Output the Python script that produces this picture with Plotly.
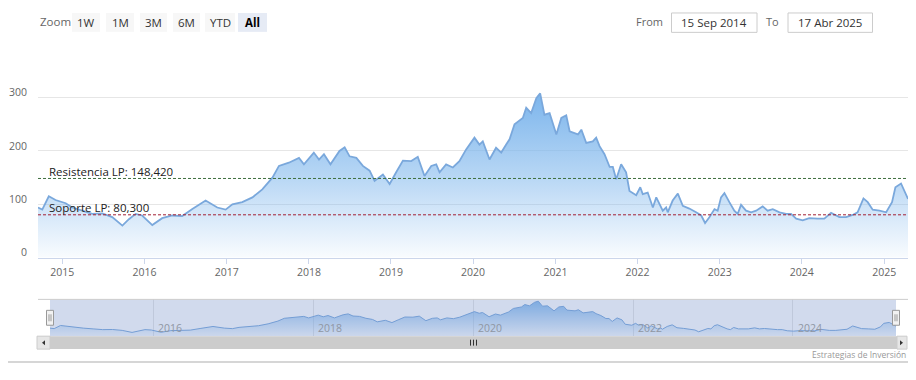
import plotly.graph_objects as go

# ---------------- data ----------------
dates = [
    "2014-09-15", "2014-10-04", "2014-11-02", "2014-12-02", "2015-01-16", "2015-02-14",
    "2015-03-31", "2015-05-14", "2015-06-28", "2015-08-11", "2015-09-25", "2015-10-24",
    "2015-11-23", "2015-12-22", "2016-02-05", "2016-03-20", "2016-05-04", "2016-06-17",
    "2016-08-01", "2016-09-29", "2016-11-20", "2016-12-27", "2017-01-26", "2017-03-11",
    "2017-04-25", "2017-06-08", "2017-07-23", "2017-08-21", "2017-10-04", "2017-11-18",
    "2017-12-10", "2018-01-23", "2018-02-15", "2018-03-09", "2018-04-07", "2018-05-17",
    "2018-06-09", "2018-07-01", "2018-07-31", "2018-08-29", "2018-09-28", "2018-10-20",
    "2018-11-26", "2018-12-26", "2019-01-24", "2019-02-23", "2019-04-01", "2019-04-30",
    "2019-05-30", "2019-06-29", "2019-07-21", "2019-08-05", "2019-09-03", "2019-10-03",
    "2019-11-01", "2019-12-01", "2020-01-07", "2020-01-29", "2020-02-13", "2020-03-14",
    "2020-04-12", "2020-05-05", "2020-05-27", "2020-06-11", "2020-07-03", "2020-08-09",
    "2020-08-24", "2020-09-15", "2020-10-08", "2020-10-25", "2020-11-13", "2020-12-06",
    "2021-01-05", "2021-01-27", "2021-02-18", "2021-03-05", "2021-04-11", "2021-04-26",
    "2021-05-18", "2021-06-16", "2021-07-01", "2021-07-16", "2021-08-07", "2021-08-30",
    "2021-09-13", "2021-09-28", "2021-10-20", "2021-11-11", "2021-11-26", "2021-12-26",
    "2022-01-13", "2022-01-24", "2022-02-15", "2022-03-10", "2022-03-25", "2022-04-23",
    "2022-05-08", "2022-05-15", "2022-06-06", "2022-06-29", "2022-07-21", "2022-08-19",
    "2022-09-18", "2022-10-11", "2022-10-28", "2022-11-17", "2022-12-09", "2022-12-23",
    "2023-01-07", "2023-01-22", "2023-02-13", "2023-03-07", "2023-03-22", "2023-04-06",
    "2023-04-28", "2023-05-21", "2023-06-12", "2023-07-11", "2023-08-02", "2023-08-25",
    "2023-09-24", "2023-10-23", "2023-11-14", "2023-12-07", "2024-01-05", "2024-02-03",
    "2024-03-11", "2024-04-10", "2024-05-10", "2024-06-16", "2024-07-16", "2024-08-14",
    "2024-09-05", "2024-10-01", "2024-10-20", "2024-11-11", "2024-12-11", "2025-01-10",
    "2025-02-05", "2025-02-20", "2025-03-17", "2025-03-31", "2025-04-17",
]
values = [
    94, 90, 115, 108, 102, 94,
    88, 82, 83, 76, 60, 72,
    82, 79, 61, 74, 79, 78,
    91, 107, 94, 90, 100, 104,
    113, 128, 150, 172, 178, 187,
    175, 197, 184, 194, 175, 200,
    207, 190, 187, 172, 163, 144,
    156, 138, 160, 182, 181, 189,
    153, 172, 175, 160, 175, 169,
    181, 203, 225, 212, 218, 184,
    206, 197, 212, 222, 250, 262,
    281, 271, 299, 308, 268, 271,
    231, 262, 267, 237, 231, 240,
    215, 218, 225, 209, 194, 170,
    170, 147, 175, 160, 125, 117,
    132, 119, 122, 94, 113, 88,
    94, 85, 107, 120, 97, 92,
    85, 79, 65, 76, 91, 88,
    113, 121, 104, 88, 82, 99,
    88, 85, 88, 96, 88, 91,
    85, 82, 82, 73, 70, 74,
    73, 73, 84, 76, 76, 80,
    85, 111, 104, 90, 88, 85,
    104, 132, 139, 125, 110,
]

resistance_value = 148.42
support_value = 80.30
resistance_label = "Resistencia LP: 148,420"
support_label = "Soporte LP: 80,300"

y_tickvals = [0, 100, 200, 300, 400]
y_ticktext = ["0", "100", "200", "300", ""]
nav_tick_years = ["2016", "2018", "2020", "2022", "2024"]

zoom_label = "Zoom"
zoom_buttons = ["1W", "1M", "3M", "6M", "YTD", "All"]
active_button = "All"
from_label, from_value = "From", "15 Sep 2014"
to_label, to_value = "To", "17 Abr 2025"
credits_text = "Estrategias de Inversión"

# ---------------- layout helpers (page pixel -> paper) ----------------
# the page body keeps its default 8px margin, so the figure is 900x364
PAGE_W, PAGE_H, BODY_M = 916, 380, 8
W, H = PAGE_W - 2 * BODY_M, PAGE_H - 2 * BODY_M
FONT = "Open Sans, Liberation Sans, sans-serif"


def px(x):
    return (x - BODY_M) / W


def py(y):
    return 1 - (y - BODY_M) / H


MAIN_L, MAIN_R, MAIN_T, MAIN_B = 38, 908, 44, 259
NAV_L, NAV_R, NAV_T, NAV_B = 50, 896, 301, 338
SCR_T, SCR_B = 338, 351

fig = go.Figure()

# main area series
fig.add_trace(go.Scatter(
    x=dates, y=values, mode="lines", name="Precio",
    line=dict(color="#7aa8dc", width=1.8),
    fill="tozeroy",
    fillgradient=dict(
        type="vertical", start=0, stop=max(values),
        colorscale=[[0, "rgba(124,181,236,0.04)"], [0.5, "rgba(124,181,236,0.55)"],
                    [1, "rgba(124,181,236,1)"]],
    ),
    xaxis="x", yaxis="y", hoverinfo="x+y", showlegend=False,
))

# navigator series
fig.add_trace(go.Scatter(
    x=dates, y=values, mode="lines", name="nav",
    line=dict(color="#7aa8dc", width=1),
    fill="tozeroy",
    fillgradient=dict(
        type="vertical", start=30, stop=max(values),
        colorscale=[[0, "rgba(124,181,236,0.05)"], [1, "rgba(124,181,236,0.9)"]],
    ),
    xaxis="x2", yaxis="y2", hoverinfo="skip", showlegend=False,
))

shapes = []
annotations = []

# support / resistance lines
for val, col, lab in [(resistance_value, "#3f6f3f", resistance_label),
                      (support_value, "#a32035", support_label)]:
    shapes.append(dict(type="line", xref="x domain", yref="y", x0=0, x1=1, y0=val, y1=val,
                       line=dict(color=col, width=1, dash="3px,2px"), layer="above"))
    annotations.append(dict(xref="x domain", yref="y", x=0, y=val, xshift=9, yshift=7,
                            xanchor="left", yanchor="middle", showarrow=False, text=lab,
                            font=dict(family=FONT, size=11.5, color="#222222")))

# navigator axis labels (left aligned after the grid line, low in the panel)
for yr in nav_tick_years:
    annotations.append(dict(xref="x2", yref="y2 domain", x=f"{yr}-01-01", y=0, xshift=3,
                            yshift=8, xanchor="left", yanchor="middle", showarrow=False,
                            text=yr, font=dict(family=FONT, size=10.5, color="#8f96a3")))

# navigator mask
shapes.append(dict(type="rect", xref="x2 domain", yref="y2 domain", x0=0, x1=1, y0=0, y1=1,
                   fillcolor="rgba(102,133,194,0.3)", line=dict(width=0), layer="above"))
# navigator outline (top)
shapes.append(dict(type="line", xref="paper", yref="paper", x0=px(MAIN_L), x1=px(MAIN_R),
                   y0=py(NAV_T), y1=py(NAV_T), line=dict(color="#cccccc", width=1), layer="above"))

# scrollbar
shapes.append(dict(type="rect", xref="paper", yref="paper", x0=px(37), x1=px(907),
                   y0=py(SCR_B), y1=py(SCR_T), fillcolor="#f2f2f2", line=dict(width=0)))
shapes.append(dict(type="rect", xref="paper", yref="paper", x0=px(50), x1=px(897),
                   y0=py(SCR_B), y1=py(SCR_T), fillcolor="#cccccc", line=dict(width=0)))
for bx0, bx1 in [(37, 50), (897, 907)]:
    shapes.append(dict(type="rect", xref="paper", yref="paper", x0=px(bx0), x1=px(bx1),
                       y0=py(SCR_B), y1=py(SCR_T), fillcolor="#e6e6e6",
                       line=dict(color="#cccccc", width=1)))
# arrows
shapes.append(dict(type="path", xref="paper", yref="paper",
                   path=f"M {px(42)} {py(344.5)} L {px(45)} {py(342)} L {px(45)} {py(347)} Z",
                   fillcolor="#333333", line=dict(width=0)))
shapes.append(dict(type="path", xref="paper", yref="paper",
                   path=f"M {px(903)} {py(344.5)} L {px(900)} {py(342)} L {px(900)} {py(347)} Z",
                   fillcolor="#333333", line=dict(width=0)))
# rifles
for rx in (470.5, 473.5, 476.5):
    shapes.append(dict(type="line", xref="paper", yref="paper", x0=px(rx), x1=px(rx),
                       y0=py(341.5), y1=py(347.5), line=dict(color="#333333", width=1)))

# navigator handles
for hx in (NAV_L, NAV_R):
    shapes.append(dict(type="rect", xref="paper", yref="paper", x0=px(hx - 3.5), x1=px(hx + 3.5),
                       y0=py(327), y1=py(312), fillcolor="#f2f2f2",
                       line=dict(color="#999999", width=1), layer="above"))
    for off in (-1, 1):
        shapes.append(dict(type="line", xref="paper", yref="paper", x0=px(hx + off), x1=px(hx + off),
                           y0=py(316), y1=py(323), line=dict(color="#999999", width=1),
                           layer="above"))

# bottom page line
shapes.append(dict(type="line", xref="paper", yref="paper", x0=0, x1=1, y0=py(364), y1=py(364),
                   line=dict(color="#d6d6d6", width=2)))

# range selector
annotations.append(dict(xref="paper", yref="paper", x=px(38), y=py(22), xanchor="left",
                        yanchor="middle", showarrow=False, text=zoom_label,
                        font=dict(family=FONT, size=11.5, color="#666666")))
btn_x = [(72, 100), (106, 134), (140, 167), (173, 200), (205, 235), (238, 267)]
for (bx0, bx1), lab in zip(btn_x, zoom_buttons):
    active = lab == active_button
    shapes.append(dict(type="rect", xref="paper", yref="paper", x0=px(bx0), x1=px(bx1),
                       y0=py(32), y1=py(13), fillcolor="#e6ebf5" if active else "#f7f7f7",
                       line=dict(width=0)))
    annotations.append(dict(xref="paper", yref="paper", x=px((bx0 + bx1) / 2), y=py(22.5),
                            xanchor="center", yanchor="middle", showarrow=False,
                            text=f"<b>{lab}</b>" if active else lab,
                            font=dict(family=FONT, size=11.5,
                                      color="#000000" if active else "#333333")))

# from / to inputs
annotations.append(dict(xref="paper", yref="paper", x=px(665), y=py(22), xanchor="right",
                        yanchor="middle", showarrow=False, text=from_label,
                        font=dict(family=FONT, size=11, color="#666666")))
annotations.append(dict(xref="paper", yref="paper", x=px(781), y=py(22), xanchor="right",
                        yanchor="middle", showarrow=False, text=to_label,
                        font=dict(family=FONT, size=11, color="#666666")))
for (bx0, bx1), txt in [((671.5, 757), from_value), ((788, 872.5), to_value)]:
    shapes.append(dict(type="rect", xref="paper", yref="paper", x0=px(bx0), x1=px(bx1),
                       y0=py(32.5), y1=py(13), fillcolor="#ffffff",
                       line=dict(color="#cccccc", width=1)))
    annotations.append(dict(xref="paper", yref="paper", x=px((bx0 + bx1) / 2), y=py(22.5),
                            xanchor="center", yanchor="middle", showarrow=False, text=txt,
                            font=dict(family=FONT, size=11.5, color="#333333")))

# credits
annotations.append(dict(xref="paper", yref="paper", x=px(908), y=py(356), xanchor="right",
                        yanchor="middle", showarrow=False, text=credits_text,
                        font=dict(family=FONT, size=8.5, color="#999999")))

x_range = [dates[0], dates[-1]]

fig.update_layout(
    width=W, height=H, autosize=False,
    margin=dict(l=0, r=0, t=0, b=0),
    paper_bgcolor="#ffffff", plot_bgcolor="rgba(0,0,0,0)",
    showlegend=False,
    font=dict(family=FONT, color="#666666"),
    xaxis=dict(
        domain=[px(MAIN_L), px(MAIN_R)], range=x_range, anchor="y",
        tick0="2015-01-01", dtick="M12", tickformat="%Y",
        showgrid=False, showline=True, linecolor="#ccd6eb", linewidth=1,
        ticks="outside", ticklen=5, tickcolor="#ccd6eb",
        tickfont=dict(family=FONT, size=10.5, color="#666666"),
        zeroline=False, fixedrange=True,
    ),
    yaxis=dict(
        domain=[py(MAIN_B), py(MAIN_T)], range=[0, 401], anchor="x",
        tickvals=y_tickvals, ticktext=y_ticktext,
        showgrid=True, gridcolor="#e6e6e6", gridwidth=1, zeroline=False,
        showline=False, ticks="", ticklabelstandoff=10, ticklabelshift=-5,
        tickfont=dict(family=FONT, size=10.5, color="#666666"), fixedrange=True,
    ),
    xaxis2=dict(
        domain=[px(NAV_L), px(NAV_R)], range=x_range, anchor="y2",
        tick0="2016-01-01", dtick="M24",
        showgrid=True, gridcolor="#e6e6e6", gridwidth=1, showline=False, zeroline=False,
        ticks="", showticklabels=False, fixedrange=True,
    ),
    yaxis2=dict(
        domain=[py(NAV_B), py(NAV_T)], range=[30, 322], anchor="x2",
        visible=False, fixedrange=True,
    ),
    shapes=shapes,
    annotations=annotations,
)

fig.write_html("out.html", config={"displayModeBar": False})
